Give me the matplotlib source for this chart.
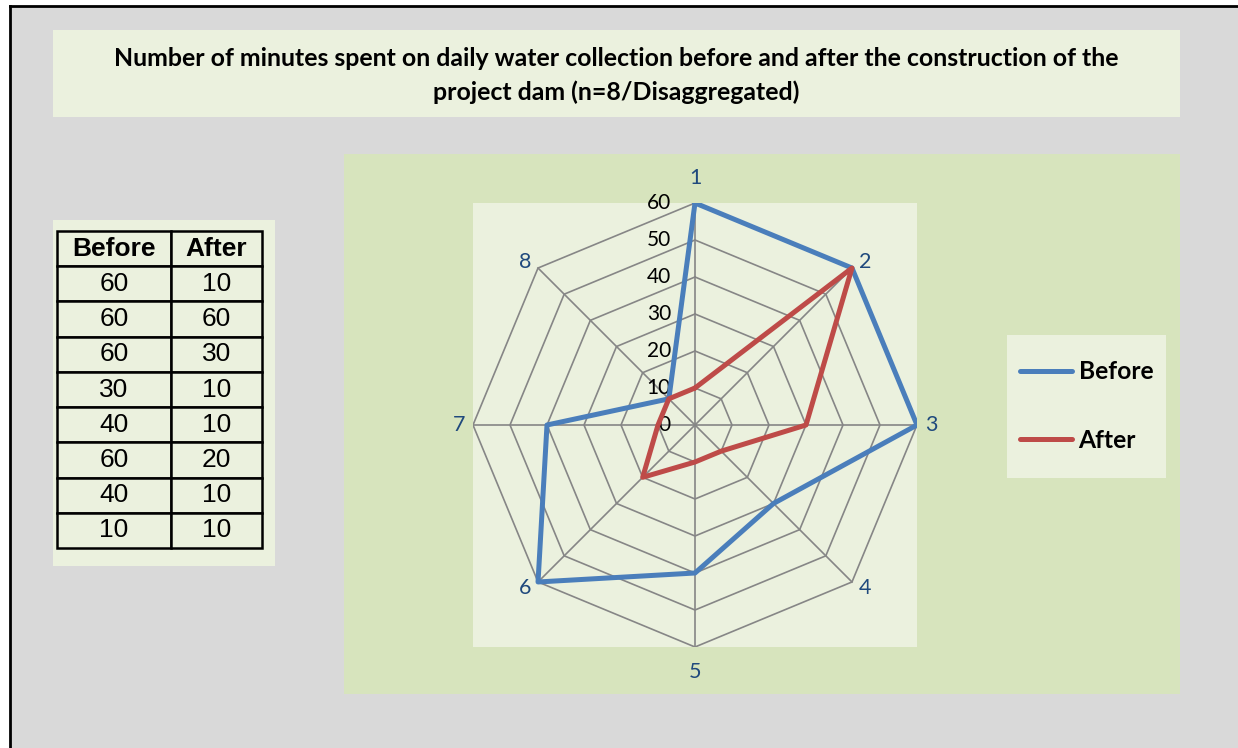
import numpy as np
import matplotlib.pyplot as plt
from matplotlib.patches import Rectangle
from matplotlib.lines import Line2D

categories = ['1', '2', '3', '4', '5', '6', '7', '8']
before = [60, 60, 60, 30, 40, 60, 40, 10]
after = [10, 60, 30, 10, 10, 20, 10, 10]
ring_ticks = [0, 10, 20, 30, 40, 50, 60]
table_cols = ['Before', 'After']
title = ('Number of minutes spent on daily water collection before and after the construction of the\n'
         'project dam (n=8/Disaggregated)')

W, H = 1238, 748
fig = plt.figure(figsize=(W / 100, H / 100), dpi=100, facecolor='white')


def box(x0, y0, x1, y1):
    # pixel box (top-left origin) -> figure fraction [l, b, w, h]
    return [x0 / W, 1 - y1 / H, (x1 - x0) / W, (y1 - y0) / H]


def panel(x0, y0, x1, y1, color):
    l, b, w, h = box(x0, y0, x1, y1)
    fig.add_artist(Rectangle((l, b), w, h, transform=fig.transFigure,
                             facecolor=color, edgecolor='none', zorder=-5))


# background + border
panel(10, 6, W, H, '#d9d9d9')
fig.add_artist(Line2D([10 / W, 10 / W], [1 - 6 / H, 0], transform=fig.transFigure, color='black', lw=2))
fig.add_artist(Line2D([10 / W, 1], [1 - 6 / H, 1 - 6 / H], transform=fig.transFigure, color='black', lw=2))

panel(53, 30, 1180, 117, '#ebf1de')      # title box
panel(53, 220, 275, 566, '#ebf1de')      # table box
panel(344, 154, 1180, 694, '#d7e4bd')    # chart area
panel(1007, 335, 1166, 478, '#ebf1de')   # legend box

fig.text(616.5 / W, 1 - 75.5 / H, title, ha='center', va='center', fontsize=17.9,
         fontweight='bold', family='Lato', linespacing=1.55)

# radar chart
ax = fig.add_axes(box(473, 203, 917, 647))
ax.set_facecolor('#ebf1de')
ax.set_xlim(-60, 60)
ax.set_ylim(-60, 60)
ax.set_xticks([])
ax.set_yticks([])
for s in ax.spines.values():
    s.set_visible(False)

theta = np.arange(len(categories)) * 2 * np.pi / len(categories)
tc = np.append(theta, theta[0])
for r in ring_ticks[1:]:
    ax.plot(r * np.sin(tc), r * np.cos(tc), color='#868686', lw=1.2, zorder=1)
for t in theta:
    ax.plot([0, 60 * np.sin(t)], [0, 60 * np.cos(t)], color='#868686', lw=1.2, zorder=1)

for r in ring_ticks:
    ax.text(-6.5, r, str(r), ha='right', va='center', fontsize=15, family='Lato', color='black', zorder=2)

for lab, t in zip(categories, theta):
    s, c = np.sin(t), np.cos(t)
    if abs(s) < 1e-6:
        dx, dy = 0, 25 * np.sign(c)
    elif abs(c) < 1e-6:
        dx, dy = 14 * np.sign(s), 0
    else:
        dx, dy = 13 * np.sign(s), 6 * np.sign(c)
    ax.annotate(lab, (60 * s, 60 * c), xytext=(dx, dy), textcoords='offset pixels',
                ha='center', va='center', fontsize=15.5, family='Lato', color='#1f497d',
                annotation_clip=False)

b = np.append(before, before[0])
a = np.append(after, after[0])
l1, = ax.plot(b * np.sin(tc), b * np.cos(tc), color='#4a7ebb', lw=3.6,
              solid_joinstyle='round', solid_capstyle='round', zorder=3, label='Before')
l2, = ax.plot(a * np.sin(tc), a * np.cos(tc), color='#be4b48', lw=3.6,
              solid_joinstyle='round', solid_capstyle='round', zorder=4, label='After')

fig.legend(handles=[l1, l2], loc='center left', bbox_to_anchor=(1020 / W, 1 - 406 / H),
           frameon=False, borderpad=0, borderaxespad=0, handlelength=2.1, handletextpad=0.28,
           labelspacing=1.85, prop={'family': 'Lato', 'weight': 'bold', 'size': 17.7})

# data table
ax_t = fig.add_axes(box(57, 231, 262, 548))
ax_t.axis('off')
cells = [[str(x), str(y)] for x, y in zip(before, after)]
tbl = ax_t.table(cellText=cells, colLabels=table_cols, cellLoc='center', bbox=[0, 0, 1, 1])
tbl.auto_set_font_size(False)
for (row, col), cell in tbl.get_celld().items():
    cell.set_width(114 if col == 0 else 91)
    cell.set_facecolor('#ebf1de')
    cell.set_edgecolor('black')
    cell.set_linewidth(1.8)
    cell.get_text().set_fontsize(19)
    cell.get_text().set_family('Liberation Sans')
    if row == 0:
        cell.get_text().set_fontweight('bold')

fig.savefig('out.png', dpi=100)
